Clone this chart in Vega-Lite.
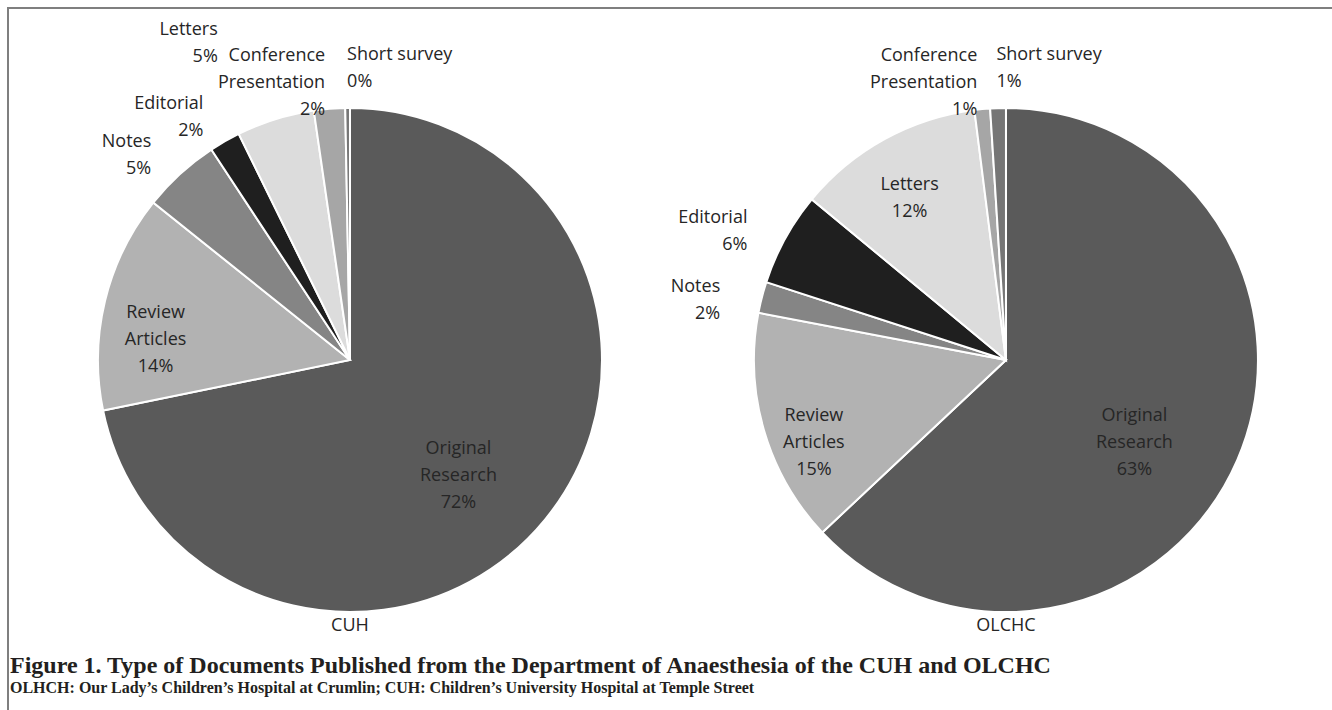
{
  "$schema": "https://vega.github.io/schema/vega-lite/v6.json",
  "autosize": {"type": "fit", "contains": "padding"},
  "width": 1332,
  "height": 710,
  "padding": {"left": 8, "top": 8, "right": -2, "bottom": -2},
  "background": "white",
  "title": {
    "text": "Figure 1. Type of Documents Published from the Department of Anaesthesia of the CUH and OLCHC",
    "subtitle": "OLHCH: Our Lady’s Children’s Hospital at Crumlin; CUH: Children’s University Hospital at Temple Street",
    "orient": "bottom",
    "anchor": "start",
    "frame": "group",
    "offset": -58,
    "dx": 2
  },
  "data": {
    "values": [
      {"hospital": "CUH", "category": "Original Research", "label": "Original\nResearch", "value": 72},
      {"hospital": "CUH", "category": "Review Articles", "label": "Review\nArticles", "value": 14},
      {"hospital": "CUH", "category": "Notes", "label": "Notes", "value": 5},
      {"hospital": "CUH", "category": "Editorial", "label": "Editorial", "value": 2},
      {"hospital": "CUH", "category": "Letters", "label": "Letters", "value": 5},
      {"hospital": "CUH", "category": "Conference Presentation", "label": "Conference\nPresentation", "value": 2},
      {"hospital": "CUH", "category": "Short survey", "label": "Short survey", "value": 0.3},
      {"hospital": "OLCHC", "category": "Original Research", "label": "Original\nResearch", "value": 63},
      {"hospital": "OLCHC", "category": "Review Articles", "label": "Review\nArticles", "value": 15},
      {"hospital": "OLCHC", "category": "Notes", "label": "Notes", "value": 2},
      {"hospital": "OLCHC", "category": "Editorial", "label": "Editorial", "value": 6},
      {"hospital": "OLCHC", "category": "Letters", "label": "Letters", "value": 12},
      {"hospital": "OLCHC", "category": "Conference Presentation", "label": "Conference\nPresentation", "value": 1},
      {"hospital": "OLCHC", "category": "Short survey", "label": "Short survey", "value": 1}
    ]
  },
  "transform": [
    {"window": [{"op": "row_number", "as": "idx"}], "groupby": ["hospital"]},
    {"stack": "value", "groupby": ["hospital"], "sort": [{"field": "idx", "order": "ascending"}], "offset": "normalize", "as": ["t0", "t1"]},
    {"calculate": "(datum.t0 + datum.t1) / 2", "as": "mid"},
    {"calculate": "datum.label + '\\n' + format(datum.value, '.0f') + '%'", "as": "txt"}
  ],
  "encoding": {
    "x": {"field": "hospital", "type": "nominal", "axis": null, "scale": {"type": "point", "padding": 0.5107, "align": 0.5104}}
  },
  "layer": [
    {
      "mark": {"type": "arc", "outerRadius": 252, "stroke": "white", "strokeWidth": 2},
      "encoding": {
        "theta": {"field": "t0", "type": "quantitative", "scale": {"domain": [0, 1]}},
        "theta2": {"field": "t1"},
        "color": {
          "field": "category",
          "type": "nominal",
          "legend": null,
          "scale": {
            "domain": ["Original Research", "Review Articles", "Notes", "Editorial", "Letters", "Conference Presentation", "Short survey"],
            "range": ["#5a5a5a", "#b2b2b2", "#858585", "#1f1f1f", "#dcdcdc", "#a6a6a6", "#767676"]
          }
        }
      }
    },
    {
      "transform": [{"filter": "datum.value >= 50"}],
      "mark": {"type": "text", "radius": 140},
      "encoding": {
        "theta": {"field": "mid", "type": "quantitative", "stack": null},
        "text": {"field": "txt"}
      }
    },
    {
      "transform": [{"filter": "datum.value >= 10 && datum.value < 50"}],
      "mark": {"type": "text", "radius": 200},
      "encoding": {
        "theta": {"field": "mid", "type": "quantitative", "stack": null},
        "text": {"field": "txt"}
      }
    },
    {
      "transform": [{"filter": "datum.value < 10 && (datum.category === 'Notes' || datum.category === 'Editorial')"}],
      "mark": {"type": "text", "radius": 295, "align": "right"},
      "encoding": {
        "theta": {"field": "mid", "type": "quantitative", "stack": null},
        "text": {"field": "txt"}
      }
    },
    {
      "transform": [{"filter": "datum.value < 10 && datum.category === 'Letters'"}],
      "mark": {"type": "text", "radius": 345, "align": "right", "dx": -30},
      "encoding": {
        "theta": {"field": "mid", "type": "quantitative", "stack": null},
        "text": {"field": "txt"}
      }
    },
    {
      "transform": [{"filter": "datum.value < 10 && datum.category === 'Conference Presentation'"}],
      "mark": {"type": "text", "radius": 305, "align": "right"},
      "encoding": {
        "theta": {"field": "mid", "type": "quantitative", "stack": null},
        "text": {"field": "txt"}
      }
    },
    {
      "transform": [{"filter": "datum.value < 10 && datum.category === 'Short survey'"}],
      "mark": {"type": "text", "radius": 305, "align": "left"},
      "encoding": {
        "theta": {"field": "mid", "type": "quantitative", "stack": null},
        "text": {"field": "txt"}
      }
    },
    {
      "transform": [{"filter": "datum.category === 'Original Research'"}],
      "mark": {"type": "text", "radius": 266, "theta": 3.14159, "fontSize": 18},
      "encoding": {
        "text": {"field": "hospital"}
      }
    }
  ],
  "config": {
    "view": {"stroke": "#7f7f7f", "strokeWidth": 2},
    "text": {"font": "Open Sans", "fontSize": 18, "color": "#262626", "lineHeight": 27, "lineBreak": "\n", "baseline": "middle"},
    "title": {
      "font": "Liberation Serif",
      "fontSize": 24,
      "fontWeight": "bold",
      "color": "#231f20",
      "subtitleFont": "Liberation Serif",
      "subtitleFontSize": 16,
      "subtitleFontWeight": "bold",
      "subtitleColor": "#231f20",
      "subtitlePadding": 2
    }
  }
}
